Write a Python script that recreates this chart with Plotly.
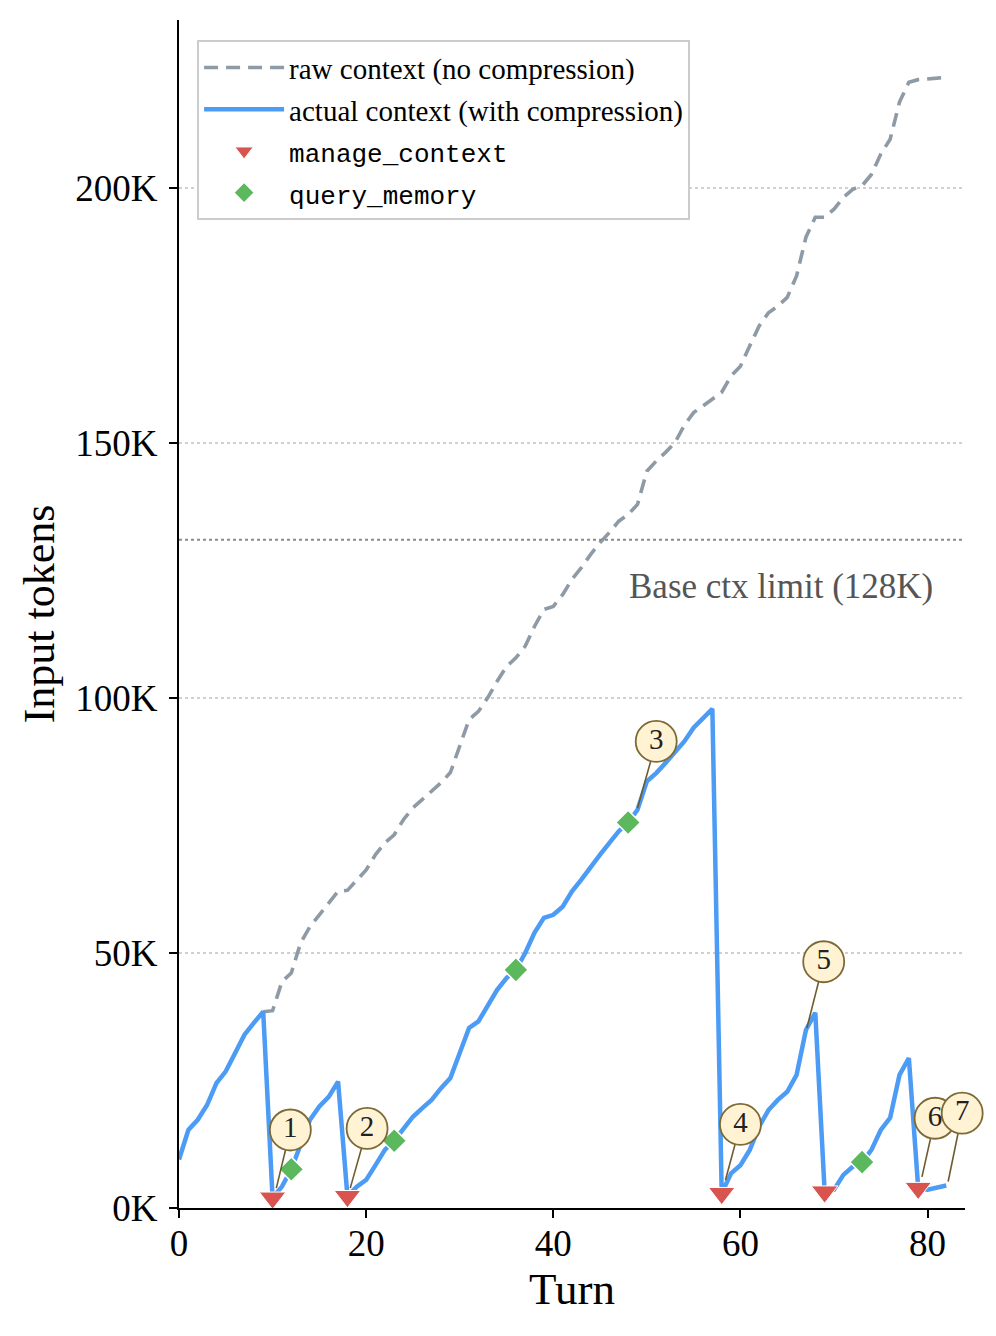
import plotly.graph_objects as go

# turn index 0..82
turns = list(range(0, 83))

# actual context with compression (tokens)
actual_tokens = [
    9500, 15300, 17300, 20200, 24500, 26800, 30400, 34000, 36300, 38500,
    2000, 4200, 7600, 12700, 17300, 19900, 21800, 24800, 2300, 4200,
    5500, 8400, 11400, 13200, 15700, 17900, 19600, 21200, 23500, 25500,
    30400, 35300, 36600, 39800, 42800, 45100, 46700, 50000, 54000, 56900,
    57500, 59100, 62100, 64400, 67000, 69300, 71600, 73900, 75600, 78100,
    83700, 85300, 87300, 89300, 91500, 94200, 96200, 97900, 2900, 6800,
    8400, 11400, 16000, 19200, 21200, 22800, 26100, 34900, 38300, 3200,
    3600, 6500, 8100, 9000, 11400, 15300, 17700, 26100, 29400, 3900,
    3600, 4000, 4400,
]

# raw context without compression, from turn 9 on
raw_turns = list(range(9, 83))
raw_tokens = [
    38500, 38700, 44400, 46100, 52000, 55200, 57500, 59800, 62100, 62300,
    64400, 66300, 69300, 71600, 73200, 76200, 78500, 80100, 81700, 83400,
    85400, 90800, 95800, 97400, 100100, 103300, 106200, 107900, 110200, 114100,
    117400, 118000, 120300, 123300, 125600, 128200, 130500, 132500, 134700, 136000,
    138000, 144500, 146500, 148200, 150100, 153500, 156000, 157300, 158600, 160000,
    163200, 165100, 169100, 173000, 175600, 176900, 178600, 182800, 190400, 194300,
    194300, 195900, 198200, 199800, 200500, 202700, 206700, 209600, 216900, 220800,
    221300, 221400, 221600, 221800,
]

manage_turns = [10, 18, 58, 69, 79]
query_turns = [12, 23, 36, 48, 73]

# numbered callouts: label position and the point the leader goes to
ann_labels = ["1", "2", "3", "4", "5", "6", "7"]
ann_label_x = [11.9, 20.1, 51.0, 60.0, 68.9, 80.8, 83.7]
ann_label_y = [15300, 15600, 91500, 16400, 48300, 17600, 18600]
ann_point_x = [10.4, 18.3, 49.0, 58.4, 67.1, 79.4, 82.2]
ann_point_y = [3900, 3900, 78400, 5500, 35300, 6100, 5200]

BASE_LIMIT = 131072
y_ticks = [0, 50000, 100000, 150000, 200000]
y_ticktext = [f"{v // 1000}K" for v in y_ticks]
x_ticks = [0, 20, 40, 60, 80]

SERIF = "Liberation Serif"
MONO = "Liberation Mono"

fig = go.Figure()

fig.add_trace(go.Scatter(
    x=raw_turns, y=raw_tokens, mode="lines",
    name="raw context (no compression)", legendgroup="a",
    line=dict(color="#8e9aa6", width=3.6, dash="14px,8px"),
))
fig.add_trace(go.Scatter(
    x=turns, y=actual_tokens, mode="lines",
    name="actual context (with compression)", legendgroup="b",
    line=dict(color="#4c9bf5", width=4.5),
))
fig.add_trace(go.Scatter(
    x=manage_turns, y=[actual_tokens[t] for t in manage_turns], mode="markers",
    name=f'<span style="font-family:{MONO};font-size:26px">manage_context</span>',
    legendgroup="c", cliponaxis=False,
    marker=dict(symbol="triangle-down", size=23, color="#d9534f",
                line=dict(color="white", width=1)),
))
fig.add_trace(go.Scatter(
    x=query_turns, y=[actual_tokens[t] for t in query_turns], mode="markers",
    name=f'<span style="font-family:{MONO};font-size:26px">query_memory</span>',
    legendgroup="d", cliponaxis=False,
    marker=dict(symbol="diamond", size=19, color="#5cb85c",
                line=dict(color="white", width=1.5)),
))

# leader lines, then the circles on top
lead_x, lead_y = [], []
for lx, ly, px, py in zip(ann_label_x, ann_label_y, ann_point_x, ann_point_y):
    lead_x += [lx, px, None]
    lead_y += [ly, py, None]
fig.add_trace(go.Scatter(
    x=lead_x, y=lead_y, mode="lines", showlegend=False, hoverinfo="skip",
    line=dict(color="#6e5c2c", width=1.6), cliponaxis=False,
))
fig.add_trace(go.Scatter(
    x=ann_label_x, y=ann_label_y, mode="markers+text", text=ann_labels,
    textposition="middle center", showlegend=False, cliponaxis=False,
    textfont=dict(family=SERIF, size=29, color="#222222"),
    marker=dict(symbol="circle", size=41, color="#fff3d4",
                line=dict(color="#7d6a36", width=1.8)),
))

fig.add_hline(y=BASE_LIMIT, line=dict(color="#8a8a8a", width=2, dash="dot"))
fig.add_annotation(
    x=80.8, y=121900, xref="x", yref="y", text="Base ctx limit (128K)",
    showarrow=False, xanchor="right", yanchor="middle",
    font=dict(family=SERIF, size=35, color="#555555"),
)

fig.update_xaxes(
    range=[0, 84], tickvals=x_ticks, showgrid=False, zeroline=False,
    showline=True, linecolor="black", linewidth=2,
    ticks="outside", ticklen=8, tickwidth=2, tickcolor="black",
    ticklabelstandoff=-6,
    tickfont=dict(family=SERIF, size=37, color="black"),
    title=dict(text="Turn", font=dict(family=SERIF, size=45, color="black"), standoff=8),
)
fig.update_yaxes(
    range=[0, 233000], tickvals=y_ticks, ticktext=y_ticktext,
    showgrid=True, gridcolor="#d0d0d0", gridwidth=1.5, griddash="dot",
    zeroline=False, showline=True, linecolor="black", linewidth=2,
    ticks="outside", ticklen=8, tickwidth=2, tickcolor="black",
    ticklabelstandoff=4,
    tickfont=dict(family=SERIF, size=37, color="black"),
    title=dict(text="Input tokens", font=dict(family=SERIF, size=44, color="black"), standoff=7),
)

# the page adds an 8px body margin, so the figure is 16px smaller
fig.update_layout(
    width=980, height=1320,
    margin=dict(l=171, r=23, t=12, b=120),
    plot_bgcolor="white", paper_bgcolor="white",
    legend=dict(
        x=0.023, y=0.983, xanchor="left", yanchor="top",
        bgcolor="white", bordercolor="#cccccc", borderwidth=2,
        font=dict(family=SERIF, size=29, color="black"),
        traceorder="grouped", tracegroupgap=1, itemwidth=80,
    ),
)

fig.write_html("out.html")
